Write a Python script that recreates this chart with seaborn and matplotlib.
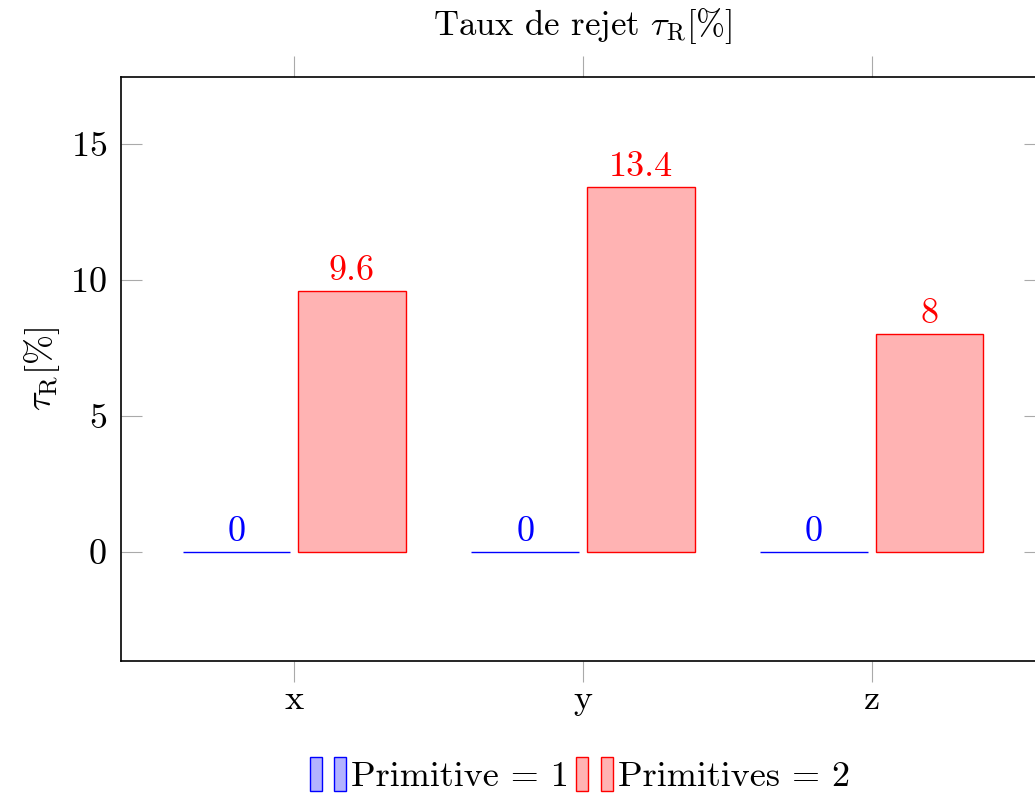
import matplotlib
matplotlib.use("Agg")
import matplotlib.pyplot as plt
import seaborn as sns
import pandas as pd
from matplotlib.patches import Rectangle
from matplotlib.legend_handler import HandlerTuple

categories = ["x", "y", "z"]
primitive_1 = [0, 0, 0]
primitives_2 = [9.6, 13.4, 8]
series_names = ["Primitive = 1", "Primitives = 2"]

df = pd.DataFrame({
    "axe": categories * 2,
    "taux": primitive_1 + primitives_2,
    "serie": [series_names[0]] * 3 + [series_names[1]] * 3,
})

sns.set_style("white")
plt.rcParams["font.family"] = ["cmr10", "DejaVu Serif"]
plt.rcParams["mathtext.fontset"] = "cm"
plt.rcParams["axes.formatter.use_mathtext"] = True
plt.rcParams["text.color"] = "black"
plt.rcParams["xtick.labelcolor"] = "black"
plt.rcParams["ytick.labelcolor"] = "black"
plt.rcParams["axes.labelcolor"] = "black"

edge = ["#0000ff", "#ff0000"]
face = ["#b3b3ff", "#ffb3b3"]
fs = 26

fig = plt.figure(figsize=(10.35, 7.96), dpi=100)
ax = fig.add_axes([121 / 1035, 135 / 796, 924 / 1035, 584 / 796])

sns.barplot(data=df, x="axe", y="taux", hue="serie", palette=face,
            width=0.8, gap=0.065, legend=False, ax=ax)

for i, cont in enumerate(ax.containers):
    for bar in cont:
        bar.set_facecolor(face[i])
        bar.set_edgecolor(edge[i])
        bar.set_linewidth(1.0)
    ax.bar_label(cont, labels=[f"{v:g}" for v in cont.datavalues],
                 color=edge[i], fontsize=fs, padding=3)

ax.set_xlim(-0.6, 2.6)
ax.set_ylim(-4, 17.46)
ax.set_yticks([0, 5, 10, 15])
ax.set_xlabel("")
ax.set_ylabel(r"$\tau_{\mathrm{R}}[\%]$", fontsize=fs, labelpad=6)
ax.set_title(r"Taux de rejet $\tau_{\mathrm{R}}[\%]$", fontsize=25, pad=30)

for s in ax.spines.values():
    s.set_color("black")
    s.set_linewidth(1.2)

ax.tick_params(axis="x", direction="out", length=15, width=0.8, color="#aaaaaa",
               top=True, bottom=True, labelsize=fs, pad=2)
ax.tick_params(axis="y", direction="in", length=15, width=0.8, color="#aaaaaa",
               left=True, right=True, labelsize=fs, pad=10)

handles = []
for i in range(2):
    handles.append((Rectangle((0, 0), 1, 1, facecolor=face[i], edgecolor=edge[i]),
                    Rectangle((0, 0), 1, 1, facecolor=face[i], edgecolor=edge[i])))
fig.legend(handles, series_names, handler_map={tuple: HandlerTuple(ndivide=None, pad=0.35)},
           loc="center", bbox_to_anchor=(580 / 1035, 1 - 775 / 796), ncol=2,
           frameon=False, fontsize=fs, handlelength=1.0, handleheight=1.1,
           handletextpad=0.15, columnspacing=0.2)

fig.savefig("out.png", dpi=100)
